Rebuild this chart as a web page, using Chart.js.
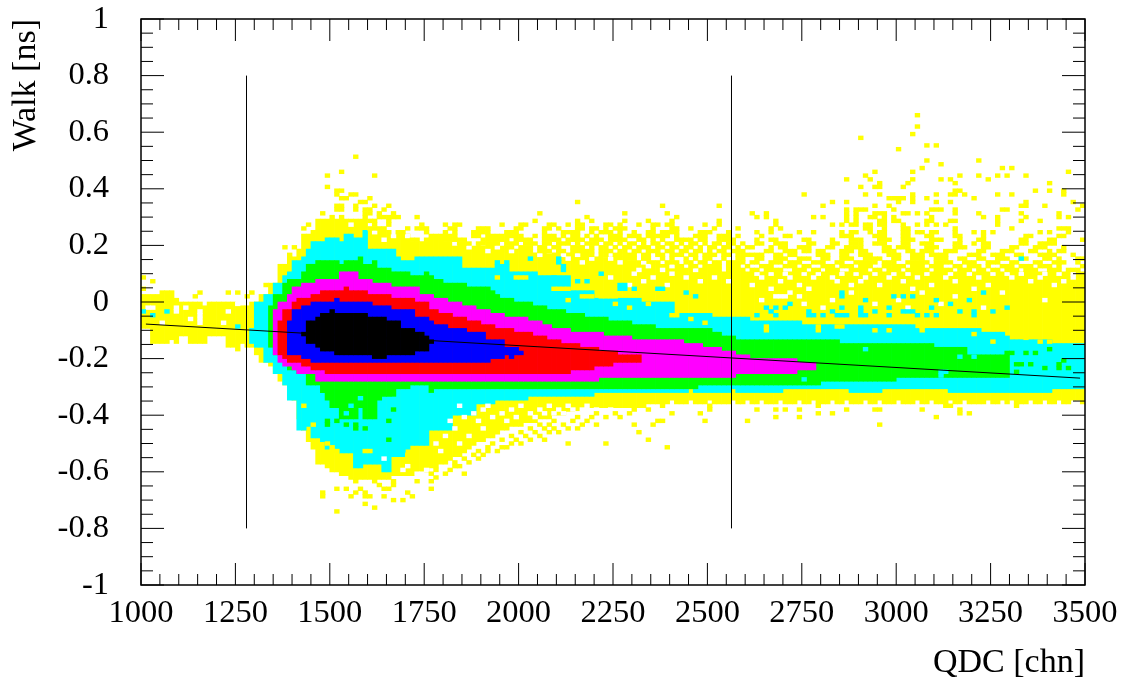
<!DOCTYPE html>
<html lang="en">
<head>
  <meta charset="UTF-8" />
  <title>Walk vs QDC</title>
  <script src="https://cdn.jsdelivr.net/npm/chart.js@4.4.1/dist/chart.umd.min.js"></script>
  <style>
    body{margin:0;background:#fff;}
    canvas{display:block;}
  </style>
</head>
<body>
  <canvas id="chart" width="1123" height="677"></canvas>

  <script>
    // axes
    const xRange = [1000, 3500];
    const yRange = [-1, 1];
    const xMajor = [1000,1250,1500,1750,2000,2250,2500,2750,3000,3250,3500];
    const xLabels = ['1000','1250','1500','1750','2000','2250','2500','2750','3000','3250','3500'];
    const xMinorStep = 50;
    const yMajor = [-1,-0.8,-0.6,-0.4,-0.2,0,0.2,0.4,0.6,0.8,1];
    const yLabels = ['-1','-0.8','-0.6','-0.4','-0.2','0','0.2','0.4','0.6','0.8','1'];
    const yMinorStep = 0.05;

    // histogram binning: 200 x 150
    const binW = 12.5;
    const rowH = 2 / 150;

    // contour bands, edges in histogram rows, one value per QDC bin
    const yellowStart = 0;
    const yellowHi = [
      77,77,77,77,78,78,78,76,75,75, 75,75,75,74,75,75,75,75,75,75,
      74,74,74,75,75,77,77,80,80,85, 85,87,87,89,93,93,94,97,97,97,
      97,97,97,97,97,97,97,97,94,94, 94,94,93,93,93,93,93,91,91,91,
      91,92,92,92,91,91,91,90,90,90, 90,90,90,90,90,90,90,89,89,89,
      89,88,88,88,88,88,88,88,88,88, 88,88,88,88,87,87,87,87,87,87,
      87,87,87,86,86,86,86,86,85,85, 85,85,85,85,84,84,84,84,84,84,
      84,83,83,83,83,83,83,83,83,83, 83,83,83,83,83,83,83,83,83,83,
      83,83,83,83,83,83,83,83,83,83, 83,83,83,83,83,83,83,83,83,83,
      83,83,83,83,83,83,83,83,83,83, 83,83,83,83,83,83,83,83,83,83,
      83,83,83,83,83,83,83,83,83,83, 83,83,83,83,83,83,83,83,83,83
    ];
    const yellowLo = [
      68,68,64,64,64,64,65,64,66,66, 64,64,64,64,66,66,66,66,63,63,
      62,64,63,63,61,59,59,58,56,54, 53,53,49,44,41,38,36,32,32,31,
      30,30,29,29,28,28,28,28,28,28, 28,28,28,29,29,29,29,29,30,30,
      30,31,31,32,32,33,34,34,35,36, 37,38,38,39,39,40,41,41,42,42,
      42,43,43,43,44,44,44,45,45,45, 46,46,46,47,47,47,47,47,47,47,
      47,47,47,47,47,47,47,48,48,48, 48,48,49,48,48,48,49,48,48,48,
      49,48,48,48,48,49,48,48,49,48, 48,49,48,48,48,49,48,48,48,49,
      48,48,49,48,48,48,49,48,48,49, 48,48,48,49,48,48,49,48,48,48,
      49,48,48,48,49,48,48,49,48,48, 48,49,48,48,49,48,48,48,48,49,
      48,48,49,48,49,48,48,48,49,48, 48,49,48,48,49,48,48,49,49,48
    ];

    const cyanStart = 23;
    const cyanHi = [
      68,75,75,77,77,80,80,
      82,83,86,86,87,89,91,91,91,92, 92,92,91,93,93,92,92,94,89,89,
      89,89,89,89,87,86,86,86,87,87, 87,87,87,87,87,87,87,87,84,84,
      84,84,84,84,84,85,85,85,83,83, 83,83,83,83,82,82,82,82,82,82,
      82,78,78,78,78,78,76,76,76,76, 76,76,76,76,76,76,75,75,75,75,
      75,75,75,72,72,72,72,72,72,72, 72,71,71,71,71,71,71,71,71,70,
      70,70,70,70,70,70,70,70,70,70, 69,69,69,69,69,69,69,69,69,69,
      69,69,69,69,69,69,69,69,69,69, 69,69,69,69,68,68,68,68,68,68,
      68,68,68,68,68,68,68,68,67,67, 67,67,67,66,65,65,65,65,65,65,
      65,65,65,64,64,64,64,64,64,64
    ];
    const cyanLo = [
      64,63,63,59,59,56,56,
      53,49,49,41,41,42,39,39,38,36, 36,36,35,35,35,31,31,32,32,32,
      32,30,30,34,34,34,36,37,37,37, 37,41,41,41,41,41,45,45,45,45,
      45,48,48,48,48,49,49,49,49,49, 49,49,50,50,50,50,50,50,50,50,
      50,50,50,50,50,50,51,51,51,51, 51,51,51,51,51,51,51,51,51,51,
      51,51,51,51,51,51,52,51,51,51, 51,51,51,51,51,52,51,51,51,51,
      51,51,51,51,51,51,52,52,52,52, 52,52,52,52,52,52,52,52,52,52,
      51,51,51,51,51,51,51,52,52,52, 52,52,52,52,52,52,52,52,52,52,
      52,51,51,51,51,51,51,51,51,51, 51,51,51,51,51,51,51,51,51,51,
      51,51,51,52,52,52,52,52,52,52
    ];

    const greenStart = 27;
    const greenHi = [
      74,77,77,
      80,81,81,81,83,85,85,86,86,86, 86,86,85,86,86,86,87,85,85,86,
      84,84,84,83,83,83,83,82,82,82,83,
      82,81,81,80,80,80,80,80,79,79, 79,79,79,78,77,76,76,76,75,75,
      75,75,74,74,74,73,73,73,73,72, 72,72,72,71,71,71,71,71,70,70,
      70,70,70,69,69,69,69,69,68,68, 68,68,68,68,68,68,68,68,68,68,
      67,67,66,66,66,65,65,65,
      65,65,65,65,65,65,65,65,65,65, 65,65,65,65,65,65,65,65,65,
      64,64,64,64,64,64,64,64,64,64, 64,64,64,64,64,64,64,64,64,64,
      63,63,63,63,63,63,63,61,61,61, 61,61,61,61,61,61
    ];
    const greenLo = [
      63,61,61,
      59,57,57,56,56,53,53,53,51,49, 47,47,44,44,44,44,47,44,44,44,
      49,50,50,50,52,52,52,53,53,53, 53,51,52,52,52,52,52,52,52,52,
      52,52,52,52,52,52,52,52,52,52, 52,52,52,52,52,52,52,52,52,52,
      52,52,52,52,52,52,52,52,52,52, 52,52,52,52,52,52,52,52,52,52,
      52,52,52,52,52,52,52,52,53,53, 53,53,53,53,53,53,53,53,53,53,
      53,53,53,53,53,53,53,53,53,53, 53,53,53,53,54,54,54,54,54,54,
      54,54,54,54,54,54,54,54,54,54, 55,55,55,55,55,55,55,55,55,55,
      55,55,55,55,55,55,55,55,55,55, 55,55,55,55
    ];

    const magentaStart = 28;
    const magentaHi = [
      73,75,
      75,77,79,79,80,80,80,81,81,81, 81,81,83,83,83,83,81,81,81,80,
      80,80,80,79,79,79,79,79,79,77,77,
      77,76,76,76,75,75,75,74,74,74, 73,73,73,72,72,72,71,71,71,71,
      71,70,70,70,69,69,68,68,68,68, 67,67,67,67,67,67,67,66,66,66,
      66,66,66,65,65,65,65,65,65,65, 65,65,65,65,64,64,64,64,63,63,
      63,63,62,62,62,61,61,61,60,60, 60,60,60,60,60,60,60,60,59,59,59,59
    ];
    const magentaLo = [
      61,59,
      58,58,57,56,56,56,56,54,54,54, 54,54,54,54,54,54,54,54,54,54,
      54,54,54,54,54,54,54,54,54,54, 54,54,54,54,54,54,54,54,54,54,
      54,54,54,54,54,54,54,54,54,54, 54,54,54,54,54,54,54,54,54,54,
      54,54,54,54,54,54,54,55,55,55, 55,55,55,55,55,55,55,55,55,55,
      55,55,55,55,55,55,55,55,55,55, 55,55,55,55,55,55,56,56,56,56,
      56,56,56,56,56,56,56,56,56,57, 57,57,57
    ];

    const redStart = 29;
    const redHi = [
      70,
      73,73,75,76,76,76,77,77,78,78, 78,78,78,79,78,78,78,78,77,77,
      77,77,77,76,76,76,76,76,75,75,75,
      73,73,72,72,72,71,71,71,70,70, 70,69,69,69,68,68,68,68,67,67,
      67,67,66,66,66,65,65,65,64,64, 64,64,63,63,63,63,62,62,62,62,
      61,61,61,61,61
    ];
    const redLo = [
      61,
      60,59,59,59,58,58,57,57,57,56, 56,56,56,56,56,56,56,56,56,56,
      56,56,56,56,56,56,56,56,56,56, 56,56,56,56,56,56,56,56,56,56,
      56,56,56,56,56,56,56,56,56,56, 56,56,56,56,56,56,56,56,56,56,
      56,57,57,57,57,57,58,58,58,58, 59,59,59,59,59,59
    ];

    const blueStart = 31;
    const blueHi = [
      70,73,73,74,74,75,75,75,75,75, 76,75,75,75,75,75,75,75,74,74,
      74,74,73,73,73,73,73,71,71,71, 70,69,69,69,68,68,68,68,67,67,
      67,67,65,65,65,65,63,63,63
    ];
    const blueLo = [
      61,61,61,60,60,59,59,59,59,59, 59,59,59,59,59,59,59,59,59,59,
      59,59,59,59,59,59,59,59,59,59, 59,59,59,59,59,59,59,59,59,59,
      59,59,59,60,60,60,61,61,61
    ];

    const blackStart = 34;
    const blackHi = [
      67,70,70,71,72,72,73,72,72,72, 72,72,72,72,71,71,71,71,70,70,
      70,68,68,68,67,67,66,65
    ];
    const blackLo = [
      66,64,64,63,62,62,62,61,61,61, 61,61,61,61,61,60,60,60,61,61,
      61,61,61,61,62,62,62,64
    ];

    // stray cells, each entry is [row, col, col, ...]
    const yellowSpecks = [
      [124,164],[121,164],[119,163],[118,152],[116,166,168],[115,160],[113,45],[112,166,177],
      [111,169],[110,165,182,184],[109,42,155,163,196],[108,39,49,153,173,177,181,183,187],
      [107,149,154,163,169,171,179],[106,156,162,172,192],[105,39,152,155,156,161],
      [104,41,42,172,173,189,192,195],[103,41,44,45,140,153,156,163,168,171,172,174,181,184,195],
      [102,42,43,48,158,159,160,161,163,166,176],[101,46,47,92,146,149,160,163,168,171,187,197],
      [100,41,42,45,49,52,110,122,144,155,158,186,187,191,199],
      [99,41,42,45,47,48,51,149,151,152,153,159,167,168,169,172,182,183,198],
      [98,38,47,48,50,53,84,102,111,129,132,149,151,155,156,157,161,162,164,166,172,177,186,194],
      [97,40,42,47,50,51,52,53,54,58,94,113,130,132,142,144,149,151,154,155,157,159,167,178,181,187,194,196],
      [96,48,49,52,83,92,95,102,107,112,122,134,149,151,156,157,159,160,166,167,171,172,181,186,190],
      [95,35,49,52,59,64,66,67,76,80,81,86,87,90,92,93,98,99,101,105,108,109,111,112,119,122,134,146,148,150,151,153,154,156,157,161,164,166,168,170,181],
      [94,34,48,49,50,51,56,58,59,60,65,66,71,72,73,79,80,85,86,88,92,93,95,96,98,100,101,102,108,112,113,116,121,126,133,135,153,154,157,161,162,172,184,194,195,196],
      [93,52,54,55,60,64,66,70,71,72,73,77,78,79,85,89,90,91,92,95,97,98,99,101,104,107,108,110,111,112,113,118,119,120,124,130,133,139,142,148,150,151,154,156,157,161,162,164,165,167,168,172,176,178,180,190,192,196],
      [92,61,62,63,64,65,66,70,71,73,74,75,76,77,78,79,80,83,85,86,87,89,91,92,94,96,99,100,101,103,104,105,107,108,109,110,111,113,117,118,119,122,123,124,126,131,136,137,148,149,150,155,156,157,161,162,166,167,172,173,178,187,188,194,195],
      [91,57,58,60,64,65,66,67,68,72,73,74,75,76,77,79,80,81,82,85,86,87,88,90,91,92,93,95,96,97,99,100,101,102,105,106,108,110,113,114,115,116,118,119,122,123,124,125,130,133,134,140,141,146,150,151,152,156,157,158,161,162,163,167,168,169,173,177,178,186,187,192,193,199],
      [90,67,68,69,71,72,73,74,75,77,78,79,81,82,83,85,86,88,89,90,92,94,95,96,98,99,101,103,104,106,108,109,111,112,114,116,117,119,121,122,124,125,127,130,131,134,135,136,141,142,146,147,150,151,152,155,156,157,161,162,165,166,167,172,173,176,178,179,186,187,190,191,192,193],
      [89,30,32,77,78,80,81,82,84,85,87,88,91,92,93,95,97,98,100,102,103,105,106,107,109,110,112,113,115,116,118,120,121,123,124,126,128,129,133,135,136,139,140,141,145,146,149,150,151,152,157,158,160,161,162,166,167,168,172,173,174,178,179,184,185,189,190,191,195],
      [88,81,82,84,85,86,88,89,91,92,93,94,95,97,98,99,101,102,104,105,107,108,109,111,112,114,115,117,118,120,122,123,125,126,127,132,133,136,137,138,140,141,143,144,148,149,150,152,153,157,158,159,162,163,165,166,167,170,171,172,177,178,182,183,184,188,189,192,194,195],
      [87,31,94,95,97,98,100,101,102,103,104,106,107,109,110,112,113,114,116,117,119,120,121,123,124,126,127,128,129,130,131,134,135,137,138,143,144,145,148,149,152,153,154,158,159,160,163,164,165,167,168,169,170,175,176,177,180,181,182,185,186,190,191,192,193,197],
      [86,103,104,106,107,110,112,115,117,119,120,123,126,127,130,131,134,135,136,139,140,141,144,145,148,149,150,153,154,155,156,159,160,163,164,165,168,169,170,173,174,177,178,181,182,183,186,187,191,192,194,198,199],
      [85,108,109,111,112,113,115,116,118,119,121,122,124,125,126,127,129,130,133,134,135,137,138,139,142,143,144,147,148,151,152,153,154,155,157,158,159,162,163,164,165,166,168,169,170,171,174,175,176,179,180,181,184,185,189,190,193,194,195,198],
      [84,114,116,117,119,120,121,122,124,125,126,128,131,132,133,136,137,138,140,141,144,145,146,148,149,150,152,153,154,157,158,159,160,161,163,164,165,167,168,169,172,173,175,176,177,179,182,183,184,186,187,188,190,191,192,194,199],
      [83,121,122,124,125,126,127,129,130,132,133,134,135,138,139,140,142,143,145,146,147,150,151,152,153,155,156,158,159,160,162,163,164,165,166,168,169,170,171,173,174,175,177,178,180,181,183,184,185,187,188,189,192,193,194,196,197,198],
      [81,0,75,79,80,81],[80,2],[79,26],[78,0],[77,12,18,20,23],[76,11,22,97,98,93,94,95,99,100],
      [78,87,88,89,90],[75,90],[74,100,107],[73,103],[71,112,113],[70,116],[69,119],[77,97,98],
      [68,132,143,147,148,165],[67,132,143,155,158,165],[66,176],[65,187],[64,180,190,192],
      [47,34,143,170,171,185,120,110],[46,130,134,136,139,149,155,156,165,173,120,104,107],
      [45,143,146,173,175,112,118,96,100,103],[44,134,139,168,92,95,98,101],[43,87,91,94,109,110,119,128],
      [42,36,156,84,86,89,93,104,108,96],[41,82,85,87,90,92],[40,80,83,86,105,88],[39,78,81,84],
      [38,76,79,82,107,85],[37,39,74,78,80,90,98],[36,73,76,77,111,40],[35,71,73,75,40,41,47,48],
      [34,70,72,56],[33,68,71],[32,66,69],[31,66,67],[30,62,65],[29,61,64,68],[28,62],
      [27,45,49,53,58,61],[26,50,53],[25,41,43,46,51,52,61],[24,38,45,47,56],[23,38,44,47,48,51,57],
      [22,53,55],[21,47],[20,49],[19,41]
    ];
    const whiteHoles = [
      [95,44],[94,53,56],[93,49,53],[92,53,56],[91,51],[90,66,70,72,76,141,162],
      [89,69,75,137,155],[88,73,78,86,96],[87,84,89,92,98,108],[86,90,95,99],
      [85,93,101,106],[84,107,112],[83,105,110,117],
      [82,104,112,130,133,136,140,143,148,151,155,159,162,166,171,175,180,183,186,191,194,197],
      [81,99,108,115,121,131,137,142,146,153,158,164,170,177,184,190,197],
      [80,106,118,124,135,147,152,161,172,188,195],[79,103,111,129,139,150,156,167,179,193],
      [78,133,141,163,176],[77,137,150,165,182],[76,134,135,136,139,172],[75,131,160,146,191],
      [74,20,140,155,169],[73,1,2,7,9,144,162,178],[72,7,12,18],[71,12],[70,10,12],[69,4,12,17],
      [47,67,73,80,86,90,94],[46,72,78,84,88,91,93,96,99],[45,70,76,82,85,87,89,92,95],
      [44,68,74,79,83],[43,65,71,77],[41,66,72],[39,64,69],[37,62,67],[35,63],[33,51],[31,56],[30,55,60],[29,58,59]
    ];
    const cyanSpecks = [
      [86,186,82,88],[85,65,75,77,88],[84,89],[83,89],[82,97],[81,87],[80,92,94],[79,101,102],
      [78,101,102,104,109,110],[77,178,148,115],[76,148,159,161,163,117],[75,153,168,175],[74,137,171],
      [73,132,134,136,148,152,158,167,183],[72,0,5,133,141,146,152,155,161,162,163,173,176,180],
      [71,2,130,134,141,142,144,147,148,149,152,153,158,164,166,168,176],[68,20]
    ];
    const greenSpecks = [
      [62,192],[61,183,184,187,189],[59,195],[58,185,186,188,194],[57,191,194,196],[56,185],
      [46,53],[43,39,41,52],[42,39,43,45],[41,45,47],[38,52]
    ];
    const cyanOverGreen = [
      [62,153],[60,173,176],[56,169,170],[55,169],[54,140],[49,46],[47,44],[45,43]
    ];
    const blueSpecks = [[61,80],[60,78]];

    // fit line and cut markers
    const fitX = [1013, 3487];
    const fitY = [-0.078, -0.269];
    const cutLowX = [1279.4, 1279.4];
    const cutHighX = [2563.8, 2563.8];
    const cutY = [-0.8, 0.8];

    const black = '#000000';
    const colW = col => xRange[0] + (col + 0.5) * binW;
    const rowY = row => yRange[0] + row * rowH;

    const bandBars = (start, lo, hi) => lo.map((v, i) => ({x: colW(start + i), y: [rowY(v), rowY(hi[i])]}));
    const speckBars = rows => rows.flatMap(([row, ...cols]) =>
      cols.map(c => ({x: colW(c), y: [rowY(row), rowY(row + 1)]})));
    const pts = (xs, ys) => xs.map((x, i) => ({x, y: ys[i]}));

    // painted bottom to top
    const layers = [
      ['#ffff00', bandBars(yellowStart, yellowLo, yellowHi)],
      ['#00ffff', bandBars(cyanStart, cyanLo, cyanHi)],
      ['#00ff00', bandBars(greenStart, greenLo, greenHi)],
      ['#ffffff', speckBars(whiteHoles)],
      ['#ffff00', speckBars(yellowSpecks)],
      ['#00ffff', speckBars(cyanSpecks)],
      ['#00ff00', speckBars(greenSpecks)],
      ['#00ffff', speckBars(cyanOverGreen)],
      ['#ff00ff', bandBars(magentaStart, magentaLo, magentaHi)],
      ['#ff0000', bandBars(redStart, redLo, redHi)],
      ['#0000ff', bandBars(blueStart, blueLo, blueHi)],
      ['#0000ff', speckBars(blueSpecks)],
      [black, bandBars(blackStart, blackLo, blackHi)]
    ];

    const barSets = layers.map(([color, data], i) => ({
      type: 'bar', data, backgroundColor: color, borderWidth: 0,
      barPercentage: 1, categoryPercentage: 1, grouped: false,
      order: layers.length + 3 - i
    }));
    const lineSet = (data) => ({
      type: 'line', data, borderColor: black, borderWidth: 1,
      pointRadius: 0, tension: 0, order: 0
    });

    // root style frame: ticks point inwards on all four sides
    const rootFrame = {
      id: 'rootFrame',
      afterDraw(chart){
        const {ctx, chartArea: a, scales: {x, y}} = chart;
        const seg = (x1, y1, x2, y2) => { ctx.moveTo(x1, y1); ctx.lineTo(x2, y2); };
        ctx.save();
        ctx.strokeStyle = black;
        ctx.lineWidth = 1;
        ctx.beginPath();
        for (let v = xRange[0]; v <= xRange[1]; v += xMinorStep) {
          const px = x.getPixelForValue(v);
          const len = xMajor.includes(v) ? 22 : 11;
          seg(px, a.bottom, px, a.bottom - len);
          seg(px, a.top, px, a.top + len);
        }
        for (let k = 0; k <= 40; k++) {
          const v = yRange[0] + k * yMinorStep;
          const py = y.getPixelForValue(v);
          const len = k % 4 === 0 ? 23 : 12;
          seg(a.left, py, a.left + len, py);
          seg(a.right, py, a.right - len, py);
        }
        ctx.stroke();
        ctx.lineWidth = 1.5;
        ctx.strokeRect(a.left, a.top, a.right - a.left, a.bottom - a.top);
        ctx.restore();
      }
    };

    const serif = size => ({family: '"Liberation Serif"', size});

    new Chart(document.getElementById('chart').getContext('2d'), {
      data: {
        datasets: [
          ...barSets,
          lineSet(pts(fitX, fitY)),
          lineSet(pts(cutLowX, cutY)),
          lineSet(pts(cutHighX, cutY))
        ]
      },
      options: {
        responsive: false,
        animation: false,
        layout: {padding: {top: 19, right: 38}},
        plugins: {legend: {display: false}, tooltip: {enabled: false}},
        scales: {
          x: {
            type: 'linear', position: 'bottom', min: xRange[0], max: xRange[1], offset: false,
            grid: {display: false}, border: {display: false},
            afterBuildTicks: s => { s.ticks = xMajor.map(value => ({value})); },
            afterFit: s => { s.height = 92; },
            ticks: {
              autoSkip: false, maxRotation: 0, padding: 1, color: black, font: serif(32.5),
              callback: (v, i) => xLabels[i]
            },
            title: {display: true, text: 'QDC [chn]', align: 'end', color: black, font: serif(34), padding: {top: -6, bottom: -6}}
          },
          y: {
            type: 'linear', position: 'left', min: yRange[0], max: yRange[1],
            grid: {display: false}, border: {display: false},
            afterBuildTicks: s => { s.ticks = yMajor.map(value => ({value})); },
            afterFit: s => { s.width = 141; s.paddingTop = 0; s.paddingBottom = 0; },
            ticks: {
              autoSkip: false, padding: 24, color: black, font: serif(32.5),
              callback: (v, i) => yLabels[i]
            },
            title: {display: true, text: 'Walk [ns]', align: 'end', color: black, font: serif(34), padding: {top: 6, bottom: 6}}
          }
        }
      },
      plugins: [rootFrame]
    });
  </script>
</body>
</html>
